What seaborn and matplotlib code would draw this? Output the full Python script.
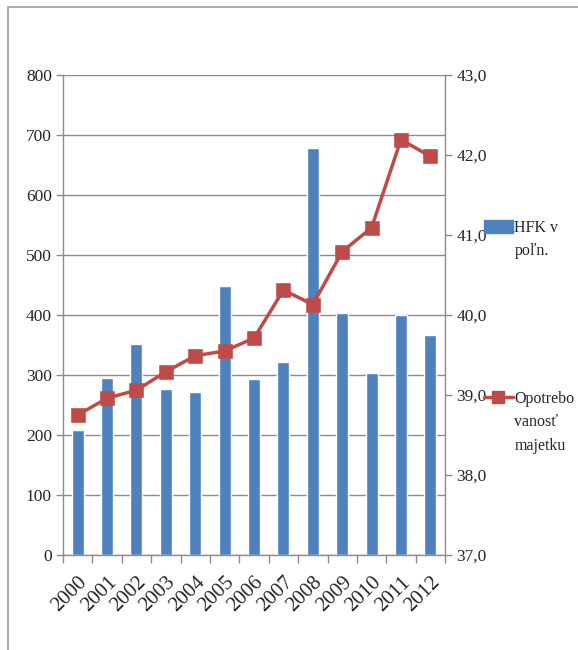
"""
HFK v poľn. vs. opotrebovanosť majetku (2000-2012)
Bar + line combo with twin y axes
"""

import matplotlib
matplotlib.use("Agg")
import matplotlib.pyplot as plt
import matplotlib.patches as mpatches
from matplotlib.lines import Line2D
from matplotlib.text import Annotation
from matplotlib.ticker import FuncFormatter, FixedLocator
import seaborn as sns
import numpy as np
import pandas as pd

# Data
years = ["2000", "2001", "2002", "2003", "2004", "2005", "2006",
         "2007", "2008", "2009", "2010", "2011", "2012"]
hfk = [208, 295, 352, 277, 272, 448, 293, 322, 678, 403, 303, 400, 367]
wear = [38.75, 38.96, 39.06, 39.29, 39.49, 39.55, 39.71,
        40.31, 40.13, 40.79, 41.09, 42.19, 41.98]

left_ticks = [0, 100, 200, 300, 400, 500, 600, 700, 800]
right_ticks = [37, 38, 39, 40, 41, 42, 43]

# legend labels: first line next to the key, the rest wraps below it
bar_label = ["HFK v", "poľn."]
line_label = ["Opotrebo", "vanosť\nmajetku"]

BLUE = "#4F81BD"
RED = "#BE4B48"
GRID = "#8C8C8C"

sns.set_theme(style="white")
plt.rcParams["font.family"] = ["Liberation Serif", "DejaVu Serif"]
plt.rcParams["font.size"] = 12

df = pd.DataFrame({"year": years, "hfk": hfk, "wear": wear})

fig = plt.figure(figsize=(5.78, 6.5), dpi=100)
ax = fig.add_axes([0.109, 0.146, 0.661, 0.739])

# Bars on the left axis
sns.barplot(data=df, x="year", y="hfk", color=BLUE, saturation=1,
            width=0.41, ax=ax, zorder=2)
ax.set_ylim(0, 800)
ax.set_xlim(-0.5, len(years) - 0.5)
ax.yaxis.set_major_locator(FixedLocator(left_ticks))
ax.grid(axis="y", color=GRID, linewidth=1)
ax.set_axisbelow(True)
ax.set_xlabel("")
ax.set_ylabel("")

# Line on the right axis
ax2 = ax.twinx()
sns.pointplot(data=df, x="year", y="wear", color=RED, markers="s",
              linestyles="-", markersize=9, linewidth=2.5, ax=ax2)
ax2.set_ylim(37, 43)
ax2.set_xlim(-0.5, len(years) - 0.5)
ax2.yaxis.set_major_locator(FixedLocator(right_ticks))
ax2.yaxis.set_major_formatter(FuncFormatter(lambda v, p: f"{v:.1f}".replace(".", ",")))
ax2.set_ylabel("")
ax2.grid(False)

# Spines and ticks
for a in (ax, ax2):
    a.spines["top"].set_visible(False)
    for s in ("left", "right", "bottom"):
        a.spines[s].set_color(GRID)
        a.spines[s].set_linewidth(1)
ax.spines["right"].set_visible(False)
ax2.spines["left"].set_visible(False)
ax2.spines["bottom"].set_visible(False)

ax.tick_params(axis="y", which="major", direction="out", length=5,
               color=GRID, width=1, labelsize=12.5, pad=3, left=True)
ax2.tick_params(axis="y", which="major", direction="out", length=5,
                color=GRID, width=1, labelsize=12.5, pad=3, right=True)

# x: labels at category centres, tick marks between categories
ax.set_xticks(range(len(years)))
ax.set_xticklabels(years, rotation=45, ha="right", rotation_mode="anchor",
                   fontsize=15)
ax.tick_params(axis="x", which="major", length=0, pad=13)
ax.set_xticks(np.arange(-0.5, len(years), 1.0), minor=True)
ax.tick_params(axis="x", which="minor", direction="out", length=6,
               color=GRID, width=1, bottom=True)

# Legend entries, placed separately like the original
bar_handle = mpatches.Patch(facecolor=BLUE, edgecolor=BLUE)
line_handle = Line2D([], [], color=RED, marker="s", markersize=9, linewidth=2.5)
leg_kw = dict(loc="upper left", frameon=False, fontsize=11.5,
              handlelength=1.8, handleheight=0.85, handletextpad=0.12,
              borderpad=0, borderaxespad=0)
leg1 = fig.legend([bar_handle], [bar_label[0]],
                  bbox_to_anchor=(0.837, 0.662), **leg_kw)
leg2 = fig.legend([line_handle], [line_label[0]],
                  bbox_to_anchor=(0.837, 0.398), **leg_kw)
# wrapped remainder of each label, hung under the legend text
for leg, label in ((leg1, bar_label), (leg2, line_label)):
    ann = Annotation(label[1], xy=(0, 0), xycoords=leg.get_texts()[0],
                     xytext=(0, -5), textcoords="offset points",
                     ha="left", va="top", fontsize=11.5, linespacing=1.65,
                     annotation_clip=False)
    ann.set_zorder(10)
    fig.add_artist(ann)

# Outer frame of the chart object
frame = mpatches.Rectangle((8 / 578, -0.05), 1.2, 1.05 - 7 / 650,
                           transform=fig.transFigure, fill=False,
                           edgecolor="#A0A0A0", linewidth=1.2)
fig.patches.append(frame)

fig.savefig("out.png", dpi=100)
plt.close(fig)
